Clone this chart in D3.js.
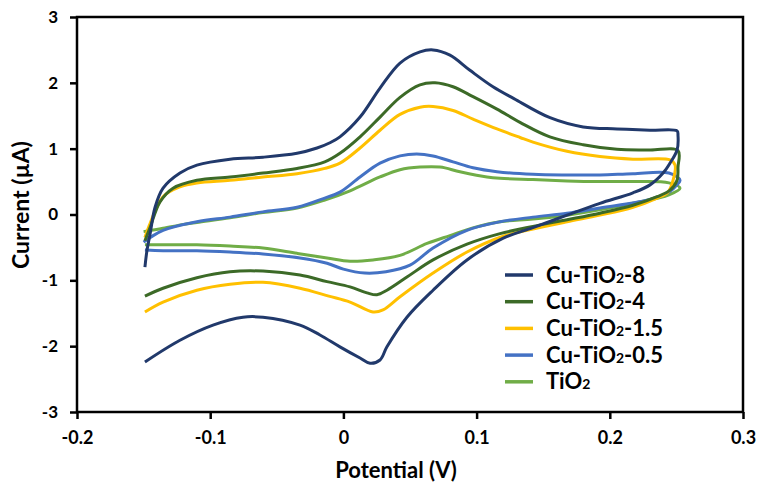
<!DOCTYPE html>
<html>
<head>
<meta charset="utf-8">
<script src="https://cdn.jsdelivr.net/npm/d3@7"></script>
<style>
  body { margin: 0; background: #fff; }
  text { font-family: Lato, "Open Sans", sans-serif; font-weight: bold; fill: #000; }
</style>
</head>
<body>
<div id="viz"></div>
<script>
// [potential (V), current (uA)]; forward sweep then reverse sweep
const cuTiO2_8 = [
  [-0.149,-0.80],[-0.1475,-0.55],[-0.145,-0.28],[-0.1414,0.11],[-0.1354,0.40],[-0.1227,0.63],[-0.110,0.75],
  [-0.0851,0.84],[-0.0604,0.87],[-0.0348,0.93],[-0.0198,1.01],[-0.0101,1.09],[-0.0026,1.18],[0.0125,1.48],
  [0.0275,1.92],[0.0425,2.30],[0.0575,2.47],[0.0673,2.50],[0.080,2.42],[0.095,2.19],[0.1123,1.94],[0.128,1.76],
  [0.1551,1.47],[0.180,1.33],[0.2054,1.30],[0.2302,1.28],[0.2505,1.27],[0.2512,1.20],[0.2505,0.98],[0.2452,0.78],
  [0.240,0.63],[0.2302,0.45],[0.2174,0.33],[0.1926,0.17],[0.1679,-0.01],[0.1423,-0.20],[0.120,-0.36],
  [0.0928,-0.69],[0.0673,-1.15],[0.0477,-1.56],[0.0327,-2.01],[0.0275,-2.21],[0.020,-2.26],[0.0125,-2.18],
  [-0.0026,-2.01],[-0.0176,-1.83],[-0.0326,-1.68],[-0.0604,-1.56],[-0.0754,-1.56],[-0.0979,-1.68],
  [-0.1227,-1.91],[-0.149,-2.24]
];
const cuTiO2_4 = [
  [-0.149,-0.40],[-0.145,-0.19],[-0.1377,0.19],[-0.1279,0.40],[-0.110,0.52],[-0.0851,0.57],[-0.0604,0.63],
  [-0.0348,0.70],[-0.014,0.80],[-0.0026,0.93],[0.0125,1.18],[0.0275,1.48],[0.0425,1.78],[0.0575,1.97],
  [0.0688,2.00],[0.0823,1.94],[0.0973,1.79],[0.1153,1.60],[0.1326,1.40],[0.155,1.18],[0.180,1.06],
  [0.2054,0.99],[0.2302,0.98],[0.2512,0.97],[0.2512,0.72],[0.2505,0.52],[0.2452,0.37],[0.2355,0.27],
  [0.2174,0.14],[0.1926,0.02],[0.1679,-0.08],[0.1423,-0.18],[0.1176,-0.29],[0.0928,-0.45],[0.0673,-0.69],
  [0.0477,-0.95],[0.0327,-1.15],[0.0252,-1.22],[0.0177,-1.19],[0.005,-1.10],[-0.0123,-1.02],[-0.0326,-0.92],
  [-0.0604,-0.86],[-0.0851,-0.87],[-0.110,-0.96],[-0.1354,-1.12],[-0.149,-1.24]
];
const cuTiO2_15 = [
  [-0.149,-0.35],[-0.145,-0.13],[-0.1354,0.27],[-0.1227,0.42],[-0.110,0.48],[-0.0851,0.52],[-0.0604,0.57],
  [-0.0348,0.62],[-0.014,0.70],[-0.0026,0.78],[0.0125,1.01],[0.0275,1.28],[0.0425,1.52],[0.0575,1.63],
  [0.0673,1.64],[0.0823,1.58],[0.0973,1.45],[0.1153,1.30],[0.1326,1.17],[0.1423,1.10],[0.1679,0.96],
  [0.1926,0.88],[0.2174,0.84],[0.2452,0.83],[0.2490,0.75],[0.2475,0.52],[0.2437,0.34],[0.2355,0.25],
  [0.2174,0.11],[0.1926,-0.01],[0.1679,-0.11],[0.1423,-0.22],[0.120,-0.33],[0.0928,-0.57],[0.0673,-0.89],
  [0.0425,-1.25],[0.0297,-1.45],[0.0222,-1.48],[0.005,-1.33],[-0.011,-1.24],[-0.0326,-1.12],[-0.0604,-1.03],
  [-0.0851,-1.06],[-0.110,-1.15],[-0.1354,-1.33],[-0.149,-1.48]
];
const cuTiO2_05 = [
  [-0.150,-0.42],[-0.1443,-0.34],[-0.1354,-0.24],[-0.110,-0.11],[-0.0851,-0.04],[-0.0604,0.04],[-0.0348,0.11],
  [-0.014,0.25],[-0.0026,0.34],[0.0125,0.57],[0.0275,0.78],[0.0425,0.89],[0.055,0.92],[0.0673,0.89],
  [0.0823,0.80],[0.0973,0.71],[0.1153,0.65],[0.1423,0.61],[0.1679,0.60],[0.1926,0.60],[0.2174,0.62],
  [0.2444,0.63],[0.2527,0.52],[0.2505,0.45],[0.2444,0.34],[0.2287,0.22],[0.1926,0.10],[0.1679,0.02],
  [0.1423,-0.04],[0.1176,-0.11],[0.0928,-0.24],[0.0673,-0.51],[0.050,-0.77],[0.032,-0.87],[0.016,-0.89],
  [0.000,-0.83],[-0.0123,-0.74],[-0.0326,-0.66],[-0.0604,-0.60],[-0.0851,-0.57],[-0.110,-0.55],
  [-0.1354,-0.55],[-0.149,-0.54]
];
const tiO2 = [
  [-0.150,-0.26],[-0.1354,-0.21],[-0.120,-0.15],[-0.110,-0.12],[-0.0851,-0.05],[-0.0604,0.03],[-0.0348,0.10],
  [-0.014,0.22],[0.005,0.36],[0.0275,0.57],[0.0425,0.68],[0.0575,0.72],[0.0725,0.72],[0.0875,0.65],
  [0.1078,0.57],[0.1176,0.55],[0.1423,0.53],[0.1679,0.51],[0.1926,0.50],[0.2174,0.50],[0.2444,0.48],
  [0.2527,0.40],[0.2444,0.30],[0.2174,0.17],[0.1926,0.07],[0.1679,-0.01],[0.1423,-0.07],[0.1176,-0.11],
  [0.0978,-0.20],[0.080,-0.32],[0.0628,-0.44],[0.0425,-0.62],[0.0222,-0.69],[0.005,-0.71],[-0.0123,-0.66],
  [-0.0348,-0.59],[-0.0604,-0.51],[-0.0851,-0.48],[-0.110,-0.46],[-0.1354,-0.46],[-0.149,-0.46]
];

const seriesNames = ["Cu-TiO2-8", "Cu-TiO2-4", "Cu-TiO2-1.5", "Cu-TiO2-0.5", "TiO2"];
const seriesData = [cuTiO2_8, cuTiO2_4, cuTiO2_15, cuTiO2_05, tiO2];
const seriesColors = ["#21396b", "#3c6a27", "#ffc000", "#4472c4", "#70ad47"];
const xTicks = [-0.2, -0.1, 0, 0.1, 0.2, 0.3];
const yTicks = [-3, -2, -1, 0, 1, 2, 3];

const margin = {top: 17, right: 17, bottom: 73, left: 77};
const W = 760, H = 485;
const width = W - margin.left - margin.right;
const height = H - margin.top - margin.bottom;

const svg = d3.select("#viz").append("svg")
  .attr("width", W)
  .attr("height", H);

const g = svg.append("g")
  .attr("transform", `translate(${margin.left},${margin.top})`);

const x = d3.scaleLinear().domain([-0.2, 0.3]).range([0, width]);
const y = d3.scaleLinear().domain([-3, 3]).range([height, 0]);

const line = d3.line()
  .x(d => x(d[0]))
  .y(d => y(d[1]))
  .curve(d3.curveCatmullRom.alpha(0.5));

// draw last series first so Cu-TiO2-8 sits on top
for (let i = seriesData.length - 1; i >= 0; i--) {
  g.append("path")
    .datum(seriesData[i])
    .attr("fill", "none")
    .attr("stroke", seriesColors[i])
    .attr("stroke-width", 3)
    .attr("stroke-linejoin", "round")
    .attr("d", line);
}

// plot frame
g.append("rect")
  .attr("width", width)
  .attr("height", height)
  .attr("fill", "none")
  .attr("stroke", "#000")
  .attr("stroke-width", 2.5);

const xAxis = g.append("g")
  .attr("transform", `translate(0,${height})`)
  .call(d3.axisBottom(x).tickValues(xTicks).tickSize(7).tickPadding(12).tickFormat(d => String(d)));
xAxis.select(".domain").remove();
xAxis.selectAll("line").attr("stroke-width", 2.5);
xAxis.selectAll("text").style("font-size", "18px").style("font-family", "Lato, sans-serif").style("font-weight", "bold");

const yAxis = g.append("g")
  .call(d3.axisLeft(y).tickValues(yTicks).tickSize(7).tickPadding(12).tickFormat(d => String(d)));
yAxis.select(".domain").remove();
yAxis.selectAll("line").attr("stroke-width", 2.5);
yAxis.selectAll("text").style("font-size", "17px").style("font-family", "Lato, sans-serif").style("font-weight", "bold");

// axis titles
svg.append("text")
  .attr("x", 396)
  .attr("y", 478)
  .attr("text-anchor", "middle")
  .style("font-size", "22px")
  .text("Potential (V)");

svg.append("text")
  .attr("transform", "rotate(-90)")
  .attr("x", -205)
  .attr("y", 29)
  .attr("text-anchor", "middle")
  .style("font-size", "23px")
  .text("Current (\u00b5A)");

// legend
const legend = svg.append("g").attr("transform", "translate(505,275)");
seriesNames.forEach((name, i) => {
  const row = legend.append("g").attr("transform", `translate(0,${i * 26.7})`);
  row.append("line")
    .attr("x1", 0).attr("x2", 28)
    .attr("stroke", seriesColors[i])
    .attr("stroke-width", 3.5);
  const t = row.append("text")
    .attr("x", 41)
    .attr("y", 7.5)
    .style("font-size", "22px");
  const k = name.indexOf("2");
  t.append("tspan").text(name.slice(0, k));
  t.append("tspan").style("font-size", "14px").text("2");
  if (k < name.length - 1) t.append("tspan").text(name.slice(k + 1));
});
</script>
</body>
</html>
